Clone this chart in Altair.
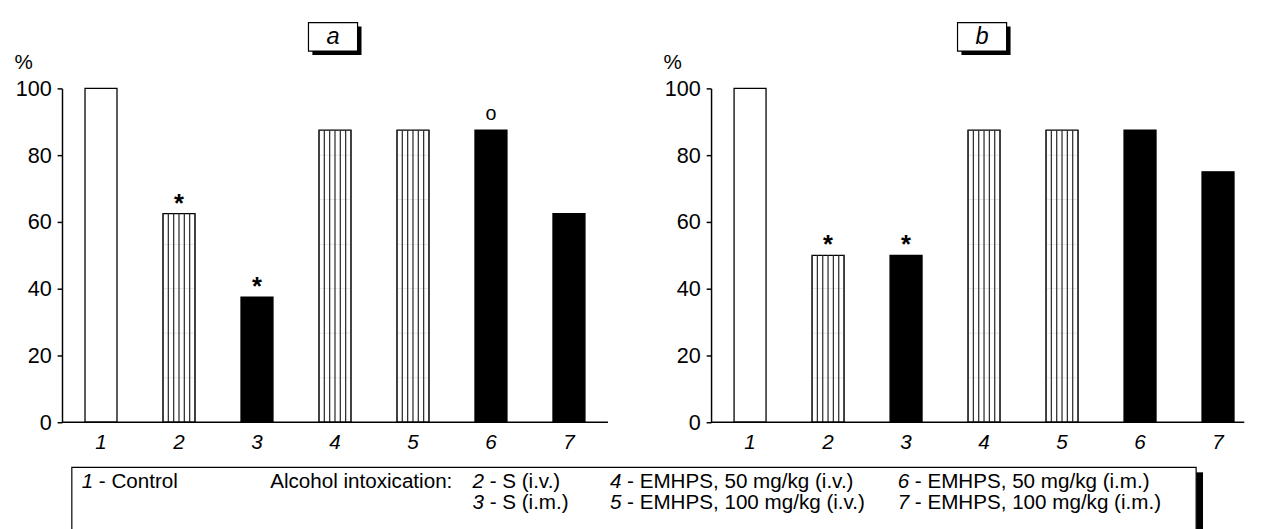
import altair as alt
import pandas as pd

# ---------------- data ----------------
groups = ["1", "2", "3", "4", "5", "6", "7"]
kinds = ["open", "hatch", "solid", "hatch", "hatch", "solid", "solid"]
values_a = [100, 62.5, 37.5, 87.5, 87.5, 87.5, 62.5]
values_b = [100, 50, 50, 87.5, 87.5, 87.5, 75]
marks_a = ["", "*", "*", "", "", "o", ""]
marks_b = ["", "*", "*", "", "", "", ""]
y_ticks = [0, 20, 40, 60, 80, 100]
hatch_dash_levels = [13.3, 26.7, 40, 53.3, 66.7, 80]

legend_nums = ["1", "2", "3", "4", "5", "6", "7"]
legend_labels = ["- Control", "- S (i.v.)", "- S (i.m.)",
                 "- EMHPS, 50 mg/kg (i.v.)", "- EMHPS, 100 mg/kg (i.v.)",
                 "- EMHPS, 50 mg/kg (i.m.)", "- EMHPS, 100 mg/kg (i.m.)"]
legend_cols = [0, 1, 1, 2, 2, 3, 3]
legend_rows = [0, 0, 1, 0, 1, 0, 1]
legend_intro = "Alcohol intoxication:"

# ---------------- style ----------------
FONT = "Liberation Sans"
H = 340
BAND_RANGE = 556
STRIPE_STEP = 5.43
LEG_TOP = 386
LEG_LEFT = 10
LEG_RIGHT = 1155
COL_X = [20, 418, 558, 851]
INTRO_X = 212
ROW_Y = [LEG_TOP + 21, LEG_TOP + 42]


def panel(values, marks, letter, width, with_legend=False):
    df = pd.DataFrame({"g": groups, "v": values, "kind": kinds, "m": marks})
    hatched = df[df["kind"] == "hatch"]
    dashes = pd.DataFrame([
        {"g": g, "lv": lv}
        for g, v in zip(hatched["g"], hatched["v"])
        for lv in hatch_dash_levels if lv < v
    ])
    one = pd.DataFrame({"t": [letter]})

    xs = alt.Scale(domain=groups, range=[0, BAND_RANGE],
                   paddingInner=0.59, paddingOuter=0.295)
    ys = alt.Scale(domain=[0, 100], nice=False)
    x = alt.X("g:N", scale=xs, sort=groups,
              axis=alt.Axis(domain=False, ticks=False, tickSize=0, labelAngle=0,
                            labelFont=FONT, labelFontSize=21, labelFontStyle="italic",
                            labelColor="black", labelBaseline="alphabetic",
                            labelPadding=27, title=None))
    y = alt.Y("v:Q", scale=ys,
              axis=alt.Axis(values=y_ticks, tickSize=5, tickWidth=1.5, tickColor="black",
                            domainColor="black", domainWidth=1.5, grid=False,
                            labelFont=FONT, labelFontSize=22, labelColor="black",
                            labelPadding=6, title="%", titleAngle=0, titleAlign="left",
                            titleBaseline="alphabetic", titleX=-49, titleY=-20,
                            titleFont=FONT, titleFontSize=21, titleFontWeight="normal",
                            titleColor="black"))
    xg = alt.X("g:N", sort=groups)

    layers = [alt.Chart(df).mark_bar(stroke="black", strokeWidth=1.3).encode(
        x=x, y=y,
        fill=alt.Fill("kind:N", scale=alt.Scale(domain=["open", "hatch", "solid"],
                                                range=["white", "white", "black"]),
                      legend=None))]
    layers.append(alt.Chart(dashes).mark_tick(
        orient="horizontal", size=31, thickness=0.7, color="#d0d0d0").encode(
        x=xg, y=alt.Y("lv:Q")))
    for k in range(7):
        layers.append(alt.Chart(hatched).mark_rule(
            color="#333333", strokeWidth=1.3, xOffset=(k - 3) * STRIPE_STEP).encode(
            x=xg, y="v:Q", y2=alt.datum(0)))
    layers += [
        alt.Chart(one).mark_rule(color="black", strokeWidth=1.5).encode(
            x=alt.value(0), x2=alt.value(width), y=alt.datum(0)),
        alt.Chart(df).transform_filter("datum.m == '*'").mark_text(
            font=FONT, fontSize=26, fontWeight="bold", baseline="alphabetic",
            dy=-2, color="black").encode(x=xg, y="v:Q", text="m:N"),
        alt.Chart(df).transform_filter("datum.m == 'o'").mark_text(
            font=FONT, fontSize=20, baseline="alphabetic",
            dy=-10, color="black").encode(x=xg, y="v:Q", text="m:N"),
        alt.Chart(one).mark_rect(color="black").encode(
            x=alt.value(255), x2=alt.value(305), y=alt.value(-63), y2=alt.value(-34)),
        alt.Chart(one).mark_rect(fill="white", stroke="black", strokeWidth=1.2).encode(
            x=alt.value(251), x2=alt.value(301), y=alt.value(-67), y2=alt.value(-38)),
        alt.Chart(one).mark_text(font=FONT, fontSize=24, fontStyle="italic",
                                 baseline="alphabetic", align="center",
                                 color="black").encode(
            x=alt.value(276), y=alt.value(-45), text="t:N"),
    ]

    if with_legend:
        blank = pd.DataFrame({"t": [""]})
        layers += [
            alt.Chart(blank).mark_rect(color="black").encode(
                x=alt.value(LEG_RIGHT), x2=alt.value(LEG_RIGHT + 7),
                y=alt.value(LEG_TOP + 5), y2=alt.value(LEG_TOP + 64)),
            alt.Chart(blank).mark_rect(fill="white", stroke="black", strokeWidth=1.2).encode(
                x=alt.value(LEG_LEFT), x2=alt.value(LEG_RIGHT),
                y=alt.value(LEG_TOP), y2=alt.value(LEG_TOP + 64)),
            alt.Chart(pd.DataFrame({"t": [legend_intro]})).mark_text(
                font=FONT, fontSize=21, align="left", baseline="alphabetic",
                color="black").encode(
                x=alt.value(INTRO_X), y=alt.value(ROW_Y[0]), text="t:N"),
        ]
        for num, lab, c, r in zip(legend_nums, legend_labels, legend_cols, legend_rows):
            d = pd.DataFrame({"n": [num], "l": [lab]})
            layers.append(alt.Chart(d).mark_text(
                font=FONT, fontSize=21, fontStyle="italic", align="left",
                baseline="alphabetic", color="black").encode(
                x=alt.value(COL_X[c]), y=alt.value(ROW_Y[r]), text="n:N"))
            layers.append(alt.Chart(d).mark_text(
                font=FONT, fontSize=21, align="left", baseline="alphabetic",
                color="black", dx=17.5).encode(
                x=alt.value(COL_X[c]), y=alt.value(ROW_Y[r]), text="l:N"))

    return alt.layer(*layers).properties(width=width, height=H)


pa = panel(values_a, marks_a, "a", 556, with_legend=True)
pb = panel(values_b, marks_b, "b", 543)

chart = alt.hconcat(pa, pb, spacing=105, bounds="flush").properties(
    padding={"left": 5, "top": 8, "right": 0, "bottom": 0}
).configure_view(stroke="transparent")

chart.save("out.html", embed_options={"renderer": "svg", "actions": False})
